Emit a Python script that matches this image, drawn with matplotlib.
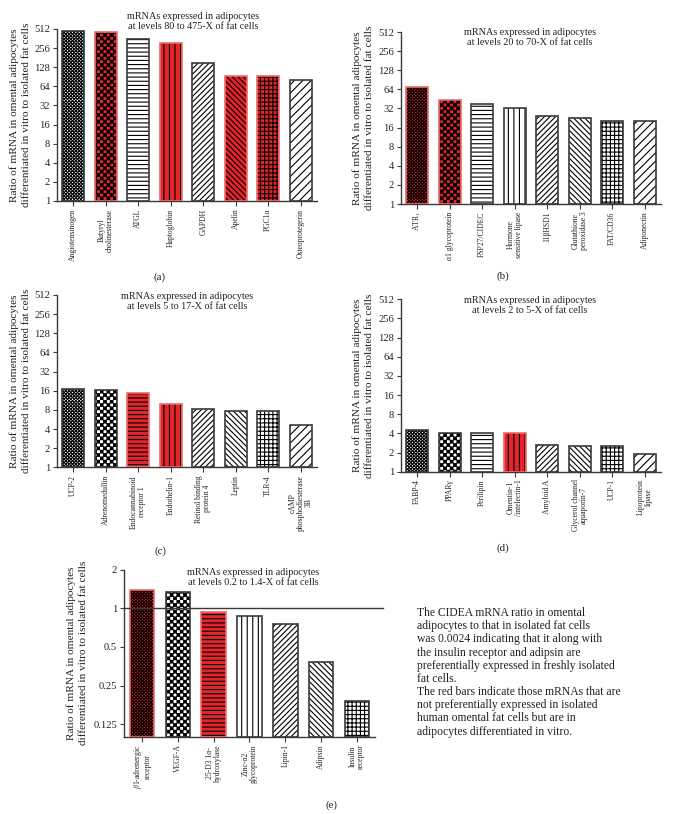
import warnings
warnings.filterwarnings("ignore")
import numpy as np
import matplotlib
matplotlib.use("Agg")
import matplotlib.pyplot as plt
import matplotlib.hatch as mhatch
from matplotlib.path import Path
from matplotlib.ticker import FixedLocator, FixedFormatter, NullLocator

plt.rcParams['font.family'] = ['Liberation Serif', 'DejaVu Serif']
plt.rcParams['mathtext.fontset'] = 'stix'
plt.rcParams['hatch.linewidth'] = 0.8

# ---------------- data ----------------
a_labels = ['Angiotensinogen', 'Butyryl\ncholinesterase', 'ATGL', 'Haptoglobin',
            'GAPDH', 'Apelin', 'PGC1α', 'Osteoprotegerin']
a_values = [475, 455, 350, 305, 150, 93, 93, 80]
a_red = [0, 1, 0, 1, 0, 1, 1, 0]

b_labels = ['ATR$_1$', 'α1 glycoprotein', 'FSP27/CIDEC', 'Hormone\nsensitive lipase',
            '11βHSD1', 'Glutathione\nperoxidase 3', 'FAT/CD36', 'Adiponectin']
b_values = [69, 43, 37, 32, 24, 23, 20, 20]
b_red = [1, 1, 0, 0, 0, 0, 0, 0]

c_labels = ['UCP-2', 'Adrenomedullin', 'Endocannabinoid\nreceptor 1', 'Endothelin-1',
            'Retinol binding\nprotein 4', 'Leptin', 'TLR-4', 'cAMP\nphosphodiesterase\n3B']
c_values = [17, 16.4, 15, 9.9, 8.2, 7.6, 7.6, 4.6]
c_red = [0, 0, 1, 1, 0, 0, 0, 0]

d_labels = ['FABP-4', 'PPARγ', 'Perilipin', 'Omentin-1\n/intelectin-1', 'Amyloid A',
            'Glycerol channel\naquaporin-7', 'UCP-1', 'Lipoprotein\nlipase']
d_values = [4.6, 4.05, 4.05, 4.05, 2.6, 2.5, 2.5, 1.87]
d_red = [0, 0, 0, 1, 0, 0, 0, 0]

e_labels = ['$\\beta$1-adrenergic\nreceptor', 'VEGF-A', '25-D3 1α-\nhydroxylase',
            'Zinc-α2\nglycoprotein', 'Lipin-1', 'Adipsin', 'Insulin\nreceptor']
e_values = [1.40, 1.33, 0.94, 0.87, 0.76, 0.38, 0.19]
e_red = [1, 0, 1, 0, 0, 0, 0]

titles = ['mRNAs expressed in adipocytes\nat levels 80 to 475-X of fat cells',
          'mRNAs expressed in adipocytes\nat levels 20 to 70-X of fat cells',
          'mRNAs expressed in adipocytes\nat levels 5 to 17-X of fat cells',
          'mRNAs expressed in adipocytes\nat levels 2 to 5-X of fat cells',
          'mRNAs expressed in adipocytes\nat levels 0.2 to 1.4-X of fat cells']
ylabel = 'Ratio of mRNA in omental adipocytes\ndifferentiated in vitro to isolated fat cells'
ticks_main = [1, 2, 4, 8, 16, 32, 64, 128, 256, 512]
ticks_e = [0.125, 0.25, 0.5, 1, 2]
tick_e_labels = ['0.125', '0.25', '0.5', '1', '2']

note = ("The CIDEA mRNA ratio in omental\n"
        "adipocytes to that in isolated fat cells\n"
        "was 0.0024 indicating that it along with\n"
        "the insulin receptor and adipsin are\n"
        "preferentially expressed in freshly isolated\n"
        "fat cells.\n"
        "The red bars indicate those mRNAs that are\n"
        "not preferentially expressed in isolated\n"
        "human omental fat cells but are in\n"
        "adipocytes differentiated in vitro.")

# ---------------- custom checker hatch ----------------
class CheckerHatch(mhatch.HatchPatternBase):
    def __init__(self, hatch, density):
        n = hatch.count('c') * density
        if n % 2:
            n += 1
        self.n = n
        self.num_vertices = (n * n // 2) * 5 if n else 0

    def set_vertices_and_codes(self, vertices, codes):
        n = self.n
        d = 1.0 / n
        s = 0.0035
        k = 0
        for i in range(n):
            for j in range(n):
                if (i + j) % 2 == 0:
                    x0, y0 = i * d + s, j * d + s
                    x1, y1 = (i + 1) * d - s, (j + 1) * d - s
                    vertices[k:k + 5] = [(x0, y0), (x1, y0), (x1, y1), (x0, y1), (x0, y0)]
                    codes[k:k + 5] = [Path.MOVETO, Path.LINETO, Path.LINETO,
                                      Path.LINETO, Path.CLOSEPOLY]
                    k += 5

mhatch._hatch_types.append(CheckerHatch)

RED = '#E3242B'
RED_EDGE = '#EF6A6A'
GRAY = '#3a3a3a'
TXT = '#222222'
hatches = ['c' * 10, 'c' * 5, '----', '|||', '//////', '\\\\\\\\\\\\', '++++', '////']

fig = plt.figure(figsize=(6.81, 8.14), dpi=100)
W, H = 681.0, 814.0

def make_ax(l, r, top, bot):
    return fig.add_axes([l / W, 1 - bot / H, (r - l) / W, (bot - top) / H])

def style(ax, n, yticks, ytl, ymin, ymax):
    ax.set_yscale('log', base=2)
    ax.set_ylim(ymin, ymax)
    ax.set_xlim(-0.5, n - 0.5)
    ax.yaxis.set_major_locator(FixedLocator(yticks))
    ax.yaxis.set_major_formatter(FixedFormatter(ytl))
    ax.yaxis.set_minor_locator(NullLocator())
    for s in ['top', 'right']:
        ax.spines[s].set_visible(False)
    for s in ['left', 'bottom']:
        ax.spines[s].set_color(GRAY)
        ax.spines[s].set_linewidth(1.0)
    ax.tick_params(axis='y', length=3, width=0.8, color=GRAY, labelsize=7.6, pad=2,
                   labelcolor=TXT)
    ax.tick_params(axis='x', length=3.5, width=0.8, color=GRAY, pad=2, labelcolor=TXT)
    ax.set_facecolor('none')

def draw(ax, labels, values, red, base, title, tx, ty, ylx):
    n = len(values)
    x = np.arange(n)
    heights = [v - base for v in values]
    fcs = [RED if r else 'white' for r in red]
    ecs = [RED_EDGE if r else GRAY for r in red]
    bars = ax.bar(x, heights, bottom=base, width=0.68, color=fcs,
                  edgecolor='black', linewidth=0, zorder=2)
    for b, h in zip(bars, hatches):
        b.set_hatch(h)
    ax.bar(x, heights, bottom=base, width=0.68, color='none',
           edgecolor=ecs, linewidth=1.2, zorder=3)
    ax.set_xticks(x)
    ax.set_xticklabels(labels, rotation=90, fontsize=5.5, ha='center', va='top',
                       multialignment='center', linespacing=1.0)
    ax.text(tx, ty, title, transform=ax.transAxes, ha='center', va='center',
            fontsize=7.3, linespacing=1.15, color=TXT)
    ax.text(ylx, 0.5, ylabel, transform=ax.transAxes, rotation=90, ha='center',
            va='center', fontsize=8.1, linespacing=1.35, color=TXT)

main_tl = [str(t) for t in ticks_main]

ax_a = make_ax(57, 317, 29, 201)
style(ax_a, 8, ticks_main, main_tl, 1, 512)
draw(ax_a, a_labels, a_values, a_red, 1, titles[0], 0.523, 1.044, -0.142)

ax_b = make_ax(401, 661, 32, 204)
style(ax_b, 8, ticks_main, main_tl, 1, 512)
draw(ax_b, b_labels, b_values, b_red, 1, titles[1], 0.496, 0.968, -0.145)

ax_c = make_ax(57, 317, 295, 467.3)
style(ax_c, 8, ticks_main, main_tl, 1, 512)
draw(ax_c, c_labels, c_values, c_red, 1, titles[2], 0.5, 0.962, -0.142)

ax_d = make_ax(401, 661, 299.2, 471.7)
style(ax_d, 8, ticks_main, main_tl, 1, 512)
draw(ax_d, d_labels, d_values, d_red, 1, titles[3], 0.496, 0.961, -0.145)

ax_e = make_ax(124, 375, 569.7, 736.7)
style(ax_e, 7, ticks_e, tick_e_labels, 0.1, 2)
draw(ax_e, e_labels, e_values, e_red, 0.1, titles[4], 0.514, 0.956, -0.187)
ax_e.axhline(1, xmin=0, xmax=1.03, color=GRAY, linewidth=1.0, clip_on=False, zorder=4)

for lab, px, py in [('(a)', 160, 277), ('(b)', 503, 276), ('(c)', 160, 551),
                    ('(d)', 503, 548), ('(e)', 331, 805)]:
    fig.text(px / W, 1 - py / H, lab, ha='center', va='center', fontsize=7.8, color=TXT)

fig.text(417 / W, 1 - 607 / H, note, ha='left', va='top', fontsize=8.4,
         linespacing=1.13, color=TXT)

fig.savefig('out.png', dpi=100)
